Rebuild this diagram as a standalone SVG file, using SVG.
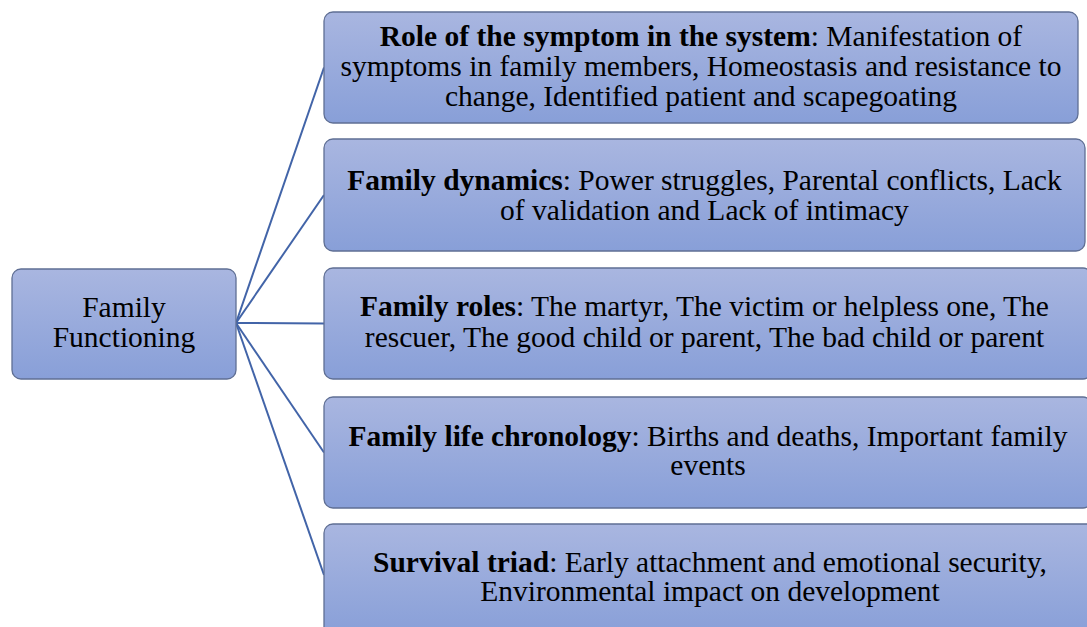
<svg xmlns="http://www.w3.org/2000/svg" width="1087" height="627" viewBox="0 0 1087 627">
<defs>
<linearGradient id="g" x1="0" y1="0" x2="0" y2="1">
<stop offset="0" stop-color="#a9b6e0"/>
<stop offset="1" stop-color="#889fd8"/>
</linearGradient>
<style>
.box{fill:url(#g);stroke:#5f6f94;stroke-width:1.3}
.c{stroke:#4264a8;stroke-width:2;fill:none}
</style>
</defs>
<rect width="1087" height="627" fill="#fff"/>
<g id="connectors">
<line class="c" x1="236" y1="323" x2="324" y2="67.5"/>
<line class="c" x1="236" y1="323" x2="324" y2="195"/>
<line class="c" x1="236" y1="323" x2="324" y2="323.5"/>
<line class="c" x1="236" y1="323" x2="324" y2="452.5"/>
<line class="c" x1="236" y1="323" x2="324" y2="575"/>
</g>
<g font-family="Liberation Serif, Tinos, Times New Roman, serif" font-size="29.5" text-anchor="middle">
<g id="root">
<rect class="box" x="12" y="269" width="224" height="110" rx="9"/>
<text x="124" y="317" font-family="Liberation Serif, Tinos, Times New Roman, serif">Family</text>
<text x="124" y="347" font-family="Liberation Serif, Tinos, Times New Roman, serif">Functioning</text>
</g>
<g id="n1">
<rect class="box" x="324" y="12" width="754" height="111" rx="9"/>
<text x="701" y="46" font-family="Liberation Serif, Tinos, Times New Roman, serif"><tspan font-weight="bold">Role of the symptom in the system</tspan>: Manifestation of</text>
<text x="701" y="76" font-family="Liberation Serif, Tinos, Times New Roman, serif">symptoms in family members, Homeostasis and resistance to</text>
<text x="701" y="106" font-family="Liberation Serif, Tinos, Times New Roman, serif">change, Identified patient and scapegoating</text>
</g>
<g id="n2">
<rect class="box" x="324" y="139" width="761" height="112" rx="9"/>
<text x="704.5" y="190" font-family="Liberation Serif, Tinos, Times New Roman, serif"><tspan font-weight="bold">Family dynamics</tspan>: Power struggles, Parental conflicts, Lack</text>
<text x="704.5" y="220" font-family="Liberation Serif, Tinos, Times New Roman, serif">of validation and Lack of intimacy</text>
</g>
<g id="n3">
<rect class="box" x="324" y="268" width="768" height="111" rx="9"/>
<text x="704.5" y="316" font-family="Liberation Serif, Tinos, Times New Roman, serif"><tspan font-weight="bold">Family roles</tspan>: The martyr, The victim or helpless one, The</text>
<text x="704.5" y="347" font-family="Liberation Serif, Tinos, Times New Roman, serif">rescuer, The good child or parent, The bad child or parent</text>
</g>
<g id="n4">
<rect class="box" x="324" y="397" width="768" height="111" rx="9"/>
<text x="708" y="446" font-family="Liberation Serif, Tinos, Times New Roman, serif"><tspan font-weight="bold">Family life chronology</tspan>: Births and deaths, Important family</text>
<text x="708" y="475" font-family="Liberation Serif, Tinos, Times New Roman, serif">events</text>
</g>
<g id="n5">
<rect class="box" x="324" y="524" width="772" height="112" rx="9"/>
<text x="710" y="572" font-family="Liberation Serif, Tinos, Times New Roman, serif"><tspan font-weight="bold">Survival triad</tspan>: Early attachment and emotional security,</text>
<text x="710" y="601" font-family="Liberation Serif, Tinos, Times New Roman, serif">Environmental impact on development</text>
</g>
</g>
</svg>
